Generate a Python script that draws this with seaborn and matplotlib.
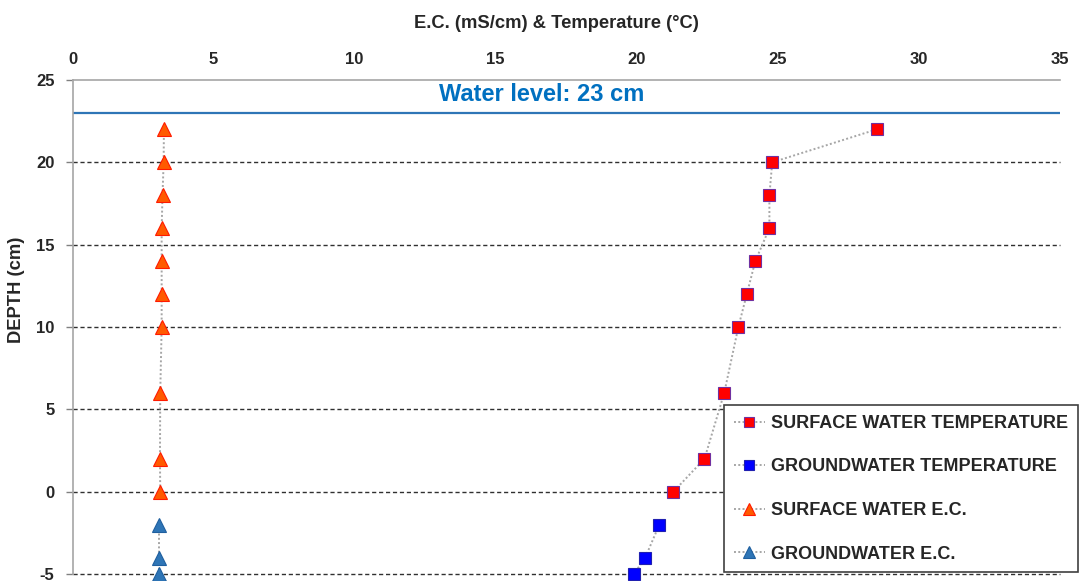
import matplotlib
matplotlib.use("Agg")
import matplotlib.pyplot as plt
import seaborn as sns
import pandas as pd

# Depth profile readings (depth in cm, E.C. in mS/cm, temperature in °C)
surface_depth = [22, 20, 18, 16, 14, 12, 10, 6, 2, 0]
surface_temp = [28.5, 24.8, 24.7, 24.7, 24.2, 23.9, 23.6, 23.1, 22.4, 21.3]
surface_ec = [3.24, 3.23, 3.19, 3.16, 3.16, 3.16, 3.16, 3.11, 3.10, 3.11]

ground_depth = [-2, -4, -5]
ground_temp = [20.8, 20.3, 19.9]
ground_ec = [3.08, 3.08, 3.08]

water_level = 23
x_ticks = [0, 5, 10, 15, 20, 25, 30, 35]
y_ticks = [-5, 0, 5, 10, 15, 20, 25]

series_names = ["SURFACE WATER TEMPERATURE", "GROUNDWATER TEMPERATURE",
                "SURFACE WATER E.C.", "GROUNDWATER E.C."]

sns.set_style("white")
plt.rcParams["font.family"] = ["Liberation Sans", "DejaVu Sans"]
plt.rcParams["font.weight"] = "bold"
plt.rcParams["axes.unicode_minus"] = False

fig = plt.figure(figsize=(10.79, 5.81), dpi=100)
ax = fig.add_axes([72.5 / 1079, 7 / 581, (1060 - 72.5) / 1079, (574 - 80) / 581])

line_kw = dict(color="#A6A6A6", linestyle=(0, (1, 1.2)), linewidth=1.4,
               estimator=None, sort=False, orient="y", ax=ax, clip_on=False)

styles = [
    dict(marker="s", markersize=8, markerfacecolor="#FF0000",
         markeredgecolor="#7030A0", markeredgewidth=0.8),
    dict(marker="s", markersize=8, markerfacecolor="#0000FF",
         markeredgecolor="#2020B0", markeredgewidth=0.8),
    dict(marker="^", markersize=9.5, markerfacecolor="#FF5A00",
         markeredgecolor="#FF1A00", markeredgewidth=0.8),
    dict(marker="^", markersize=9.5, markerfacecolor="#2E75B6",
         markeredgecolor="#1F5F9F", markeredgewidth=0.8),
]

frames = [
    pd.DataFrame({"value": surface_temp, "depth": surface_depth}),
    pd.DataFrame({"value": ground_temp, "depth": ground_depth}),
    pd.DataFrame({"value": surface_ec, "depth": surface_depth}),
    pd.DataFrame({"value": ground_ec, "depth": ground_depth}),
]

for df, st, name in zip(frames, styles, series_names):
    sns.lineplot(data=df, x="value", y="depth", label=name, **line_kw, **st)

# Horizontal reference grid
for yv in y_ticks[:-1]:
    ax.axhline(yv, color="#303030", linestyle=(0, (3, 2)), linewidth=1.0,
               zorder=0.5, clip_on=False)

# Water level marker
ax.axhline(water_level, color="#2E75B6", linewidth=1.6, zorder=1)
ax.text(0.475, 24.1, f"Water level: {water_level} cm", transform=ax.get_yaxis_transform(),
        ha="center", va="center", fontsize=17, fontweight="bold", color="#0070C0")

ax.set_xlim(0, 35)
ax.set_ylim(-5, 25)
ax.set_xticks(x_ticks)
ax.set_yticks(y_ticks)
ax.xaxis.tick_top()
ax.xaxis.set_label_position("top")
ax.tick_params(axis="x", length=0, pad=9.5, labelsize=12)
ax.tick_params(axis="y", left=True, length=5, width=1, color="#808080", pad=8, labelsize=12)
for lab in ax.get_xticklabels() + ax.get_yticklabels():
    lab.set_fontweight("bold")

for side in ["bottom", "right"]:
    ax.spines[side].set_visible(False)
for side in ["top", "left"]:
    ax.spines[side].set_color("#A6A6A6")
    ax.spines[side].set_linewidth(1.2)

ax.set_xlabel("E.C. (mS/cm) & Temperature (°C)", fontsize=13.2, fontweight="bold")
ax.xaxis.set_label_coords((556 - 72.5) / 987.5, 1 + (80 - 23) / 494)
ax.xaxis.label.set_va("center")
ax.set_ylabel("DEPTH (cm)", fontsize=13.2, fontweight="bold")
ax.yaxis.set_label_coords((17 - 72.5) / 987.5, 1 - (290 - 80) / 494)
ax.yaxis.label.set_va("center")

handles, labels = ax.get_legend_handles_labels()
leg = ax.legend(handles, labels, loc="upper left",
                bbox_to_anchor=(724 / 1079, 1 - 405 / 581), bbox_transform=fig.transFigure,
                borderaxespad=0, frameon=True, fancybox=False, framealpha=1,
                edgecolor="#404040", fontsize=13.0, labelspacing=1.47,
                handlelength=1.7, handletextpad=0.35, borderpad=0.55, markerscale=0.85)
leg.get_frame().set_linewidth(1.2)
for t in leg.get_texts():
    t.set_fontweight("bold")

fig.savefig("out.png", dpi=100)
